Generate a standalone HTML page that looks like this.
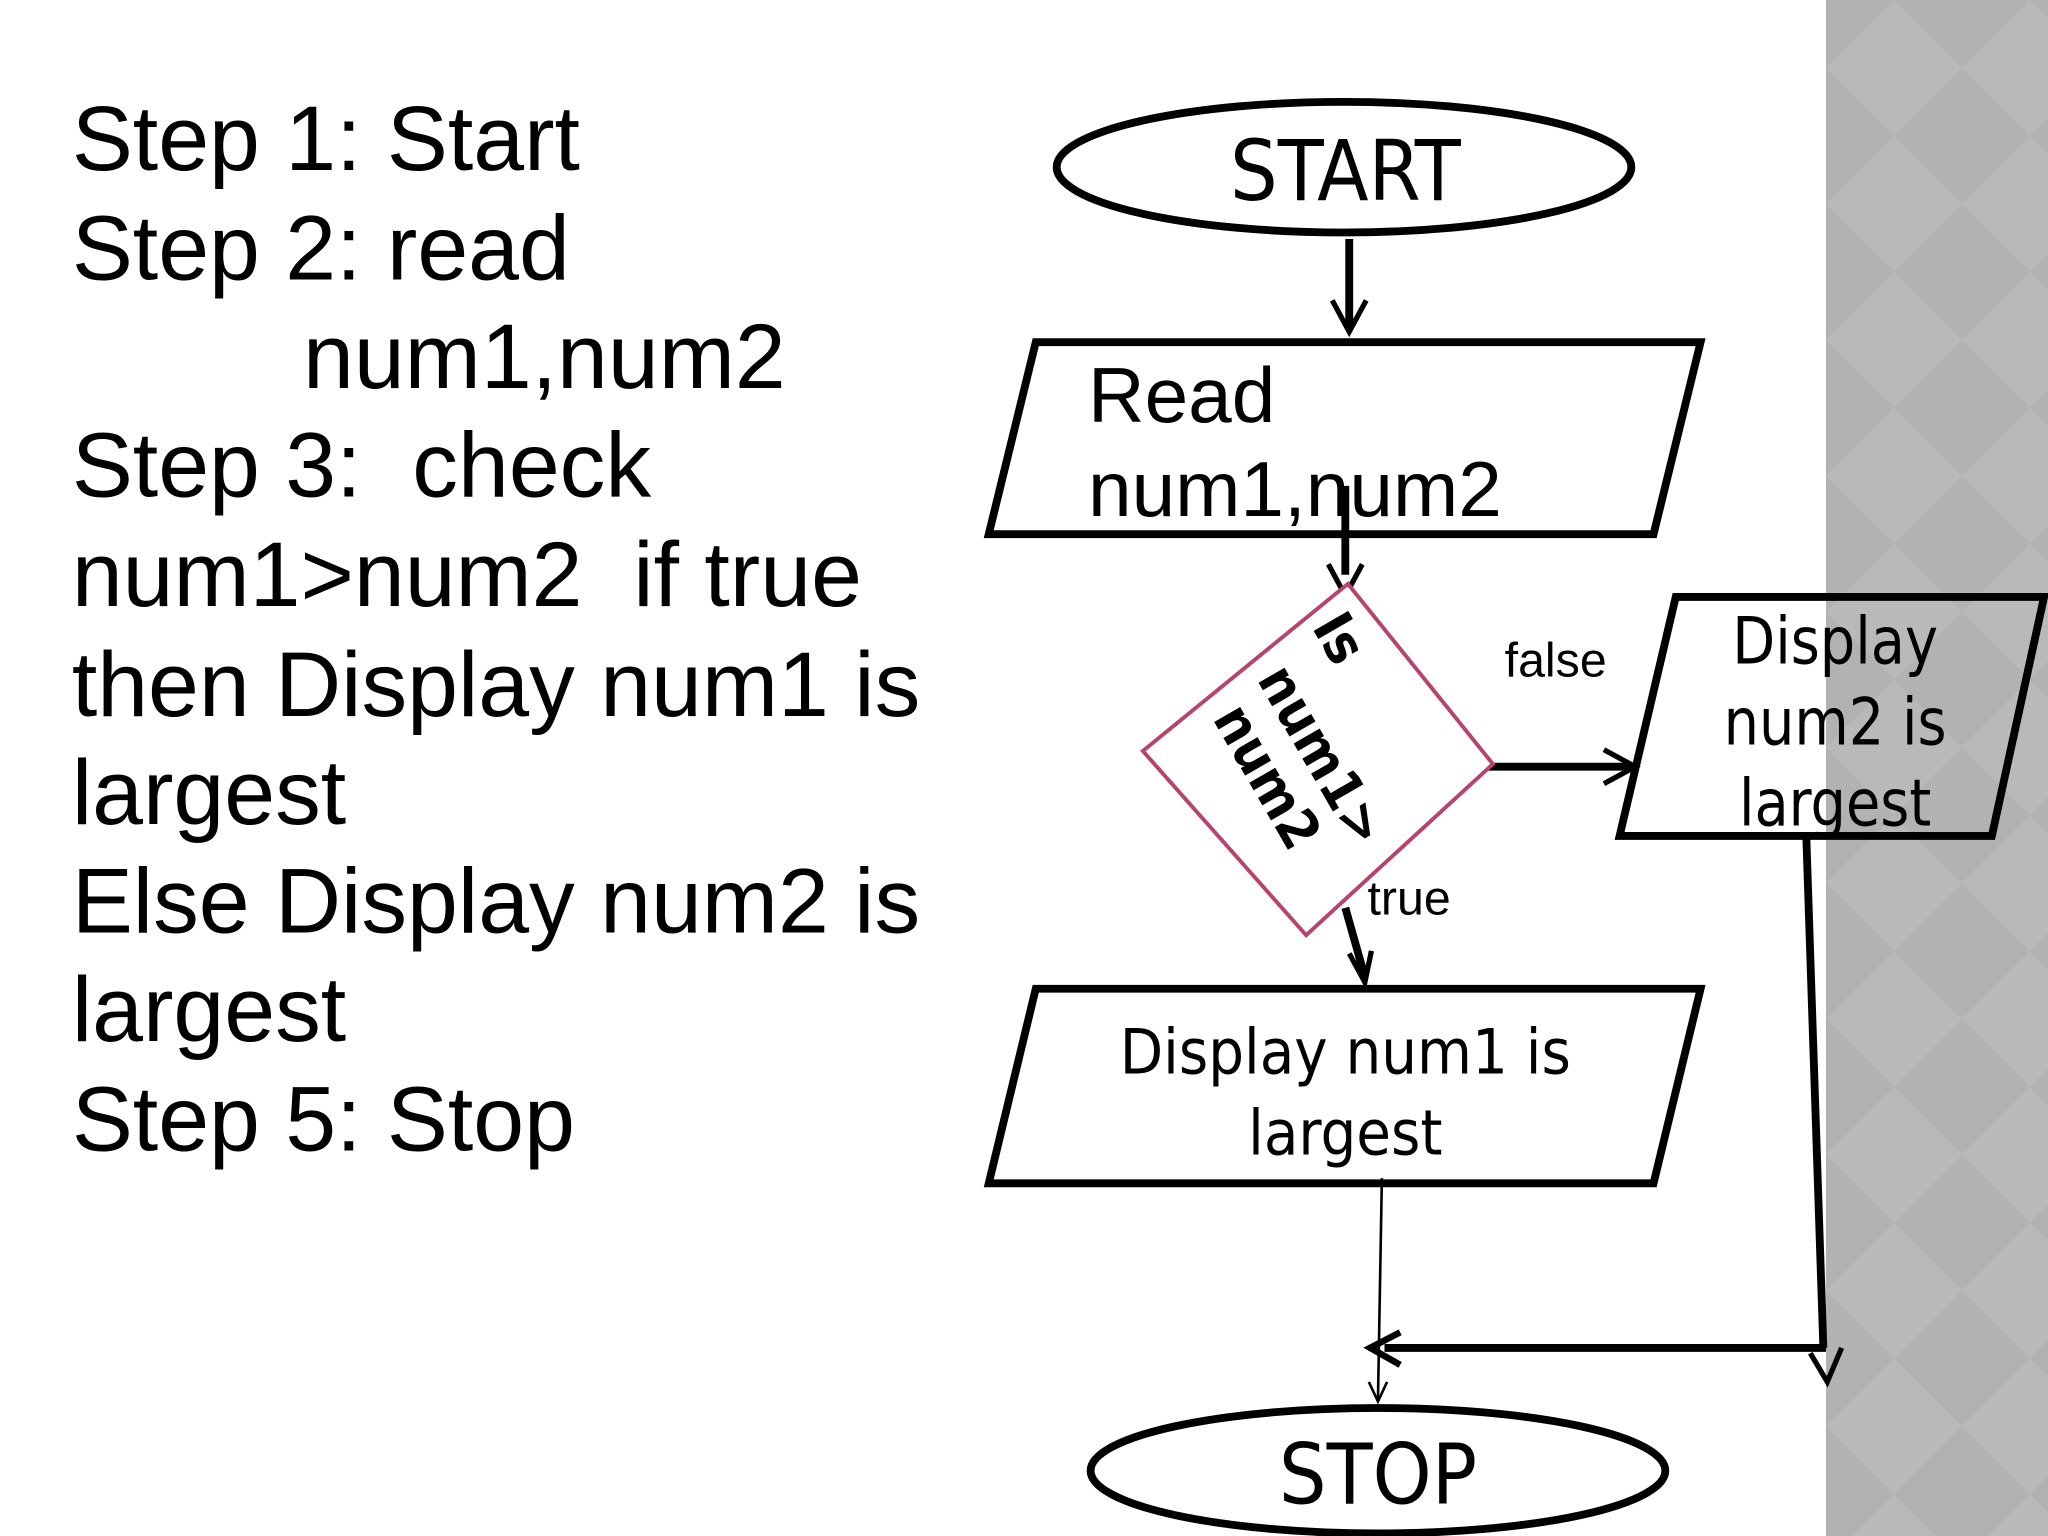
<!DOCTYPE html>
<html><head><meta charset="utf-8"><style>
html,body{margin:0;padding:0;background:#fff;}
svg{display:block;}
text{white-space:pre;}
</style></head><body>
<svg width="2048" height="1536" viewBox="0 0 1568 1176" xmlns="http://www.w3.org/2000/svg" xml:space="preserve">
<defs>
<pattern id="dia" x="1398" y="0" width="104" height="104" patternUnits="userSpaceOnUse">
<rect width="104" height="104" fill="#b2b2b2"/>
<path d="M52 0 L104 52 L52 104 L0 52 Z" fill="#b9b9b9"/>
</pattern>
</defs>
<rect x="0" y="0" width="1568" height="1176" fill="#fff"/>
<rect x="1398" y="0" width="170" height="1176" fill="url(#dia)"/>

<g font-family="Liberation Sans, sans-serif" font-size="70" fill="#000">
<text x="55" y="130">Step 1: Start</text>
<text x="55" y="214">Step 2: read</text>
<text x="232" y="297">num1,num2</text>
<text x="55" y="380">Step 3:  check</text>
<text x="55" y="464">num1&gt;num2  if true</text>
<text x="55" y="548">then Display num1 is</text>
<text x="55" y="631">largest</text>
<text x="55" y="714">Else Display num2 is</text>
<text x="55" y="797">largest</text>
<text x="55" y="881">Step 5: Stop</text>
</g>

<g fill="none" stroke="#000" stroke-width="6">
<ellipse cx="1029" cy="128" rx="220" ry="50"/>
<polygon points="793,262 1302,262 1266,409 757,409"/>
<polygon points="1283,457 1565,457 1525,640 1240,640"/>
<polygon points="793,757 1302,757 1266,906 757,906"/>
<ellipse cx="1055" cy="1126" rx="220" ry="48"/>
<line x1="1033" y1="183" x2="1033" y2="252"/>
<polyline points="1020,230 1033,254 1046,230" stroke-width="4"/>
<line x1="1030" y1="372" x2="1030" y2="440"/>
<polyline points="1017,432 1030,456 1043,432" stroke-width="4"/>
<line x1="1123" y1="587" x2="1250" y2="587"/>
<polyline points="1228,574 1252,587 1228,600" stroke-width="4"/>
<line x1="1030" y1="695" x2="1045" y2="748"/>
<polyline points="1033,730 1045,752 1050,728" stroke-width="4"/>
<line x1="1383" y1="642" x2="1396" y2="1032"/>
<line x1="1398" y1="1032" x2="1060" y2="1032"/>
<polyline points="1072,1020 1049,1032 1072,1045" stroke-width="5"/>
<polyline points="1386,1036 1399,1058 1410,1032" stroke-width="4"/>
</g>
<line x1="1058" y1="902" x2="1055" y2="1072" stroke="#000" stroke-width="2"/>
<polyline points="1048,1058 1055,1073 1062,1058" fill="none" stroke="#000" stroke-width="2"/>

<polygon points="1032,447 1143,585 1000,716 875,575" fill="#fff" stroke="#b5446e" stroke-width="3"/>

<g font-family="DejaVu Sans Condensed, DejaVu Sans, sans-serif" fill="#000">
<text x="1030" y="153" font-size="64" text-anchor="middle">START</text>
<text x="1055" y="1151" font-size="64" text-anchor="middle">STOP</text>
<g transform="translate(1405,0) scale(0.95,1)">
<text x="0" y="508" font-size="50" text-anchor="middle">Display</text>
<text x="0" y="570" font-size="50" text-anchor="middle">num2 is</text>
<text x="0" y="632" font-size="50" text-anchor="middle">largest</text>
</g>
<text x="1030" y="822" font-size="48" text-anchor="middle">Display num1 is</text>
<text x="1030" y="884" font-size="48" text-anchor="middle">largest</text>
<g font-weight="bold" font-size="42">
<text transform="translate(1004,480) rotate(60)">Is</text>
<text transform="translate(962,520) rotate(60)">num1&gt;</text>
<text transform="translate(928,550) rotate(60)">num2</text>
</g>
</g>
<g font-family="Liberation Sans, sans-serif" fill="#000">
<text x="833" y="323" font-size="60">Read</text>
<text x="833" y="395" font-size="60">num1,num2</text>
<text x="1152" y="518" font-size="37">false</text>
<text x="1047" y="700" font-size="37">true</text>
</g>
</svg>
</body></html>
